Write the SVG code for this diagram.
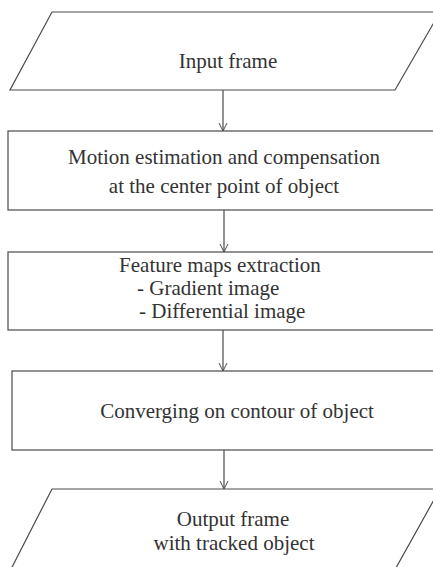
<svg xmlns="http://www.w3.org/2000/svg" width="433" height="567" viewBox="0 0 433 567">
<style>
.shape{fill:#fff;stroke:#4a4a4a;stroke-width:1.2}
.t{font-family:"Liberation Serif","Times New Roman",serif;font-size:21px;fill:#333}
.c{text-anchor:middle}
.conn{stroke:#4a4a4a;stroke-width:1.2;fill:none}
</style>
<defs>
<marker id="ah" markerWidth="12" markerHeight="10" refX="10" refY="5" orient="auto" markerUnits="userSpaceOnUse">
<path d="M2,1 L10,5 L2,9" fill="none" stroke="#4a4a4a" stroke-width="1"/>
</marker>
</defs>
<rect width="433" height="567" fill="#fff"/>
<g id="input">
<polygon class="shape" points="52,12 440,12 395,90 10,90"/>
<text class="t c" x="228" y="68">Input frame</text>
</g>
<g id="motion">
<rect class="shape" x="8" y="131" width="440" height="79"/>
<text class="t c" x="224" y="164">Motion estimation and compensation</text>
<text class="t c" x="224" y="193">at the center point of object</text>
</g>
<g id="feature">
<rect class="shape" x="8" y="252" width="440" height="78"/>
<text class="t c" x="220" y="272">Feature maps extraction</text>
<text class="t" x="137" y="295">- Gradient image</text>
<text class="t" x="139" y="318">- Differential image</text>
</g>
<g id="converging">
<rect class="shape" x="12" y="371" width="440" height="79"/>
<text class="t c" x="237" y="418">Converging on contour of object</text>
</g>
<g id="output">
<polygon class="shape" points="52,489 440,489 392,575 8,575"/>
<text class="t c" x="233" y="526">Output frame</text>
<text class="t c" x="234" y="550">with tracked object</text>
</g>
<g id="connectors">
<line class="conn" x1="223" y1="90" x2="223" y2="131" marker-end="url(#ah)"/>
<line class="conn" x1="224" y1="210" x2="224" y2="252" marker-end="url(#ah)"/>
<line class="conn" x1="223" y1="330" x2="223" y2="371" marker-end="url(#ah)"/>
<line class="conn" x1="224" y1="450" x2="224" y2="489" marker-end="url(#ah)"/>
</g>
</svg>
